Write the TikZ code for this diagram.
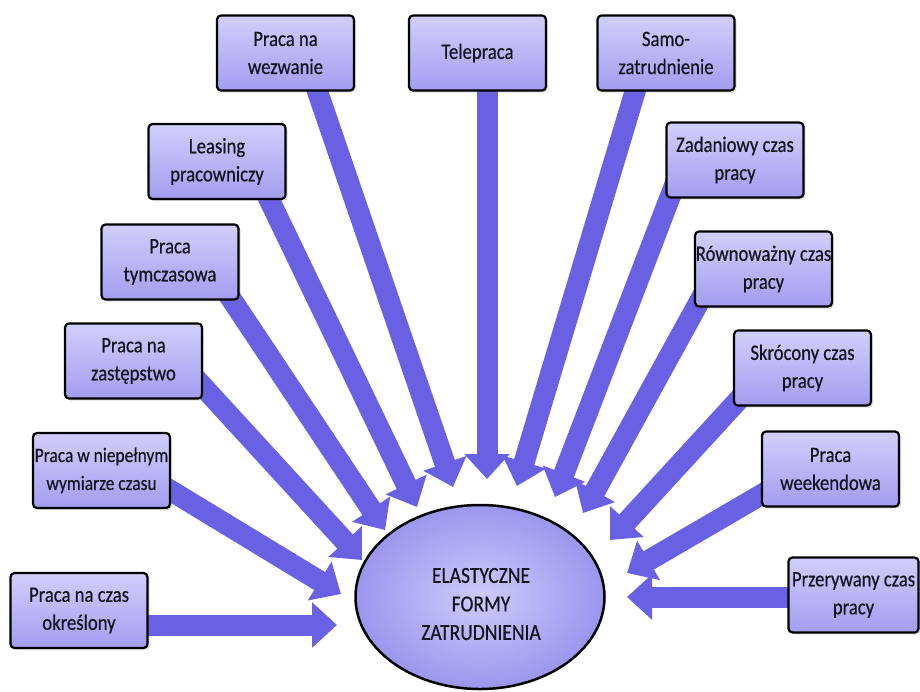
\documentclass[tikz,border=0pt]{standalone}
\usepackage{fontspec}
\setmainfont{Carlito}
\newfontfamily\narrowfont{Carlito}[FakeStretch=0.85,FakeBold=0.5]
\usetikzlibrary{arrows.meta,calc,shadows,shapes.geometric}
\definecolor{arr}{RGB}{106,96,228}
\definecolor{boxtop}{RGB}{210,206,251}
\definecolor{boxbot}{RGB}{164,156,240}
\definecolor{elin}{RGB}{206,203,251}
\definecolor{elout}{RGB}{156,149,237}
\definecolor{txt}{RGB}{20,20,30}
\pgfdeclarelayer{bg}
\pgfsetlayers{bg,main}
\begin{document}
\begin{tikzpicture}[x=1pt,y=-1pt,
  formbox/.style={draw=black, line width=2.2pt, rounded corners=4pt,
    top color=boxtop, bottom color=boxbot,
    minimum width=137pt, minimum height=75pt, inner sep=0pt,
    align=center, text=txt, font=\narrowfont\fontsize{22}{28}\selectfont,
    drop shadow={shadow xshift=2pt, shadow yshift=-2pt, opacity=0.25}},
  flow/.style={draw=arr, line width=21pt, -{Triangle[width=44pt,length=25pt]}},
]
\useasboundingbox (0,0) rectangle (920,691);
% boxes
\node[formbox] (b1) at (79,610.5) {Praca na czas\\określony};
\node[formbox, font=\narrowfont\fontsize{20.5}{28}\selectfont] (b2) at (101.5,470.5) {Praca w niepełnym\\wymiarze czasu};
\node[formbox] (b3) at (133.5,361) {Praca na\\zastępstwo};
\node[formbox] (b4) at (170,262) {Praca\\tymczasowa};
\node[formbox] (b5) at (217,161.5) {Leasing\\pracowniczy};
\node[formbox] (b6) at (285.5,53) {Praca na\\wezwanie};
\node[formbox] (b7) at (477.5,53) {Telepraca};
\node[formbox] (b8) at (666,53) {Samo-\\zatrudnienie};
\node[formbox] (b9) at (735,160) {Zadaniowy czas\\pracy};
\node[formbox] (b10) at (763.5,269) {Równoważny czas\\pracy};
\node[formbox] (b11) at (802.5,368) {Skrócony czas\\pracy};
\node[formbox] (b12) at (830.5,469) {Praca\\weekendowa};
\node[formbox, minimum width=130pt] (b13) at (853.5,595) {Przerywany czas\\pracy};
% centre
\node[ellipse, draw=black, line width=2.5pt, inner color=elin, outer color=elout,
      minimum width=249pt, minimum height=184pt] (c) at (480,597) {};
\node[align=center, text=txt, font=\narrowfont\fontsize{23}{28.5}\selectfont] (ct) at (481,604)
  {ELASTYCZNE\\FORMY\\ZATRUDNIENIA};
% arrow tips
\coordinate (t1) at (337,625);
\coordinate (t2) at (341,594);
\coordinate (t3) at (362,560);
\coordinate (t4) at (385,530);
\coordinate (t5) at (417,507);
\coordinate (t6) at (453,487);
\coordinate (t7) at (487,479);
\coordinate (t8) at (517,486);
\coordinate (t9) at (555,497);
\coordinate (t10) at (583,513);
\coordinate (t11) at (610,540);
\coordinate (t12) at (627,573);
\coordinate (t13) at (627,597);
\begin{pgfonlayer}{bg}
\draw[flow] ($(b1.center)+(61,14.5)$) -- (t1);
\draw[flow] ($(b2.center)+(48.5,7.5)$) -- (t2);
\draw[flow] ($(b3.center)+(52.5,7)$) -- (t3);
\draw[flow] ($(b4.center)+(42,8)$) -- (t4);
\draw[flow] ($(b5.center)+(38,8.5)$) -- (t5);
\draw[flow] ($(b6.center)+(19.5,2)$) -- (t6);
\draw[flow] ($(b7.center)+(9.5,0)$) -- (t7);
\draw[flow] ($(b8.center)+(-20,2)$) -- (t8);
\draw[flow] ($(b9.center)+(-45,-15)$) -- (t9);
\draw[flow] ($(b10.center)+(-43.5,-5)$) -- (t10);
\draw[flow] ($(b11.center)+(-37.5,3)$) -- (t11);
\draw[flow] ($(b12.center)+(-40.5,9)$) -- (t12);
\draw[flow] ($(b13.center)+(-33.5,2)$) -- (t13);
\end{pgfonlayer}
\end{tikzpicture}
\end{document}
